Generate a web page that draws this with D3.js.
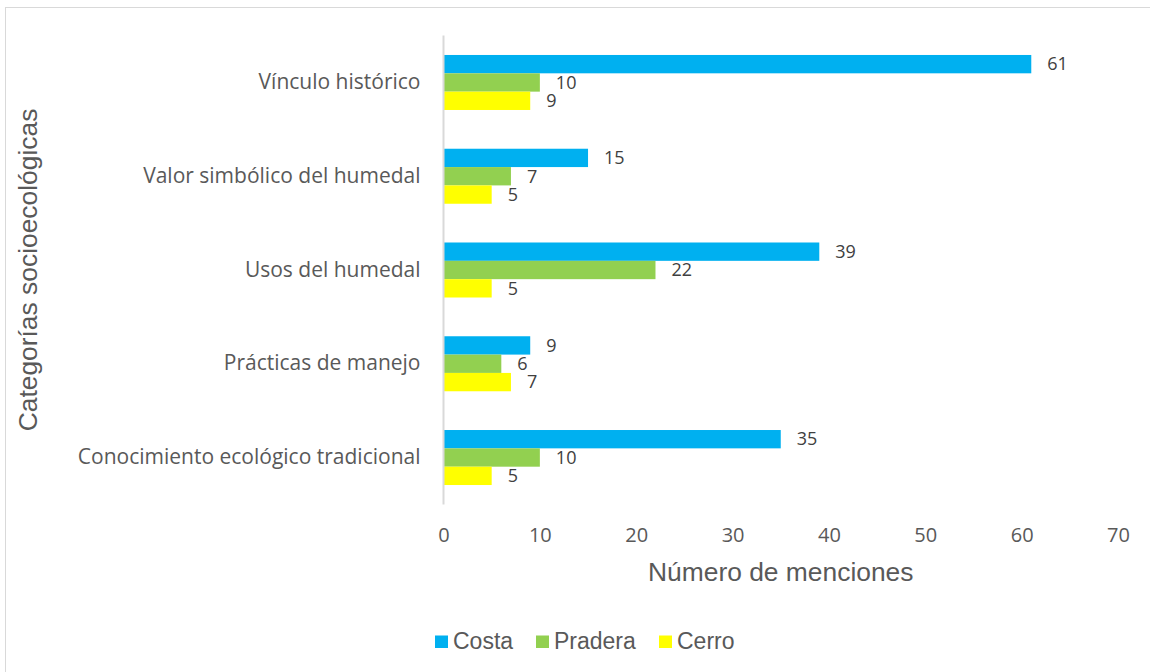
<!DOCTYPE html>
<html>
<head>
<meta charset="utf-8">
<script src="https://cdn.jsdelivr.net/npm/d3@7"></script>
<style>
  body { margin: 0; background: #fff; }
  svg { display: block; }
</style>
</head>
<body>
<div id="chart"></div>
<script>
// data, top category first
var categories = ['Vínculo histórico', 'Valor simbólico del humedal', 'Usos del humedal',
                  'Prácticas de manejo', 'Conocimiento ecológico tradicional'];
var seriesNames = ['Costa', 'Pradera', 'Cerro'];
var costa   = [61, 15, 39, 9, 35];
var pradera = [10, 7, 22, 6, 10];
var cerro   = [9, 5, 5, 7, 5];
var xTicks  = [0, 10, 20, 30, 40, 50, 60, 70];
var colors  = ['#00B0F0', '#92D050', '#FFFF00'];

var W = 1150, H = 672;
var plot = { left: 443.5, right: 1118, top: 35.6, bottom: 504.4 };

var svg = d3.select('#chart').append('svg')
  .attr('width', W)
  .attr('height', H);

// outer frame (cut off at right / bottom like the original)
svg.append('rect')
  .attr('x', 5.5).attr('y', 7.5)
  .attr('width', W + 10).attr('height', H + 10)
  .attr('fill', 'none')
  .attr('stroke', '#d9d9d9');

var rows = categories.map(function(c, i) {
  return { cat: c, values: [costa[i], pradera[i], cerro[i]] };
});

var x = d3.scaleLinear().domain([0, 70]).range([plot.left, plot.right]);

var y = d3.scaleBand()
  .domain(categories)
  .range([plot.top, plot.bottom])
  .paddingInner(0.4133)
  .paddingOuter(0.4133 / 2);

var ySub = d3.scaleBand()
  .domain(seriesNames)
  .range([0, y.bandwidth()]);

// bars
var groups = svg.selectAll('g.cat')
  .data(rows)
  .enter().append('g')
  .attr('class', 'cat')
  .attr('transform', function(d) { return 'translate(0,' + y(d.cat) + ')'; });

groups.selectAll('rect')
  .data(function(d) { return d.values.map(function(v, j) { return { s: seriesNames[j], v: v, j: j }; }); })
  .enter().append('rect')
  .attr('x', x(0))
  .attr('y', function(d) { return ySub(d.s); })
  .attr('width', function(d) { return x(d.v) - x(0); })
  .attr('height', ySub.bandwidth())
  .attr('fill', function(d) { return colors[d.j]; });

// value labels
groups.selectAll('text')
  .data(function(d) { return d.values.map(function(v, j) { return { s: seriesNames[j], v: v }; }); })
  .enter().append('text')
  .attr('x', function(d) { return x(d.v) + 16; })
  .attr('y', function(d) { return ySub(d.s) + ySub.bandwidth() / 2; })
  .attr('dy', '0.35em')
  .attr('font-family', 'Open Sans, sans-serif')
  .attr('font-size', '18px')
  .attr('fill', '#404040')
  .text(function(d) { return d.v; });

// y axis (line + category labels)
var yAxis = svg.append('g')
  .attr('transform', 'translate(' + plot.left + ',0)')
  .call(d3.axisLeft(y).tickSize(0).tickPadding(23));
yAxis.select('.domain').attr('stroke', '#d9d9d9').attr('stroke-width', 2)
  .attr('d', 'M0,' + plot.top + 'V' + plot.bottom);
yAxis.selectAll('text')
  .attr('font-family', 'Open Sans, sans-serif')
  .attr('font-size', '21px')
  .attr('fill', '#595959');

// x axis labels only
var xAxis = svg.append('g')
  .attr('transform', 'translate(0,' + plot.bottom + ')')
  .call(d3.axisBottom(x).tickValues(xTicks).tickSize(0).tickPadding(0));
xAxis.select('.domain').remove();
xAxis.selectAll('text')
  .attr('y', 38)
  .attr('dy', null)
  .attr('font-family', 'Open Sans, sans-serif')
  .attr('font-size', '20px')
  .attr('fill', '#595959');

// axis titles
svg.append('text')
  .attr('x', (plot.left + plot.right) / 2)
  .attr('y', 581)
  .attr('text-anchor', 'middle')
  .attr('font-family', 'Liberation Sans, Arial, sans-serif')
  .attr('font-size', '26.4px')
  .attr('fill', '#595959')
  .text('Número de menciones');

svg.append('text')
  .attr('transform', 'translate(37,' + ((plot.top + plot.bottom) / 2) + ') rotate(-90)')
  .attr('text-anchor', 'middle')
  .attr('font-family', 'Liberation Sans, Arial, sans-serif')
  .attr('font-size', '26.4px')
  .attr('fill', '#595959')
  .text('Categorías socioecológicas');

// legend
var legendX = [435, 536, 659];
var legend = svg.selectAll('g.legend')
  .data(seriesNames)
  .enter().append('g')
  .attr('class', 'legend')
  .attr('transform', function(d, i) { return 'translate(' + legendX[i] + ',635.5)'; });

legend.append('rect')
  .attr('width', 13).attr('height', 12.5)
  .attr('fill', function(d, i) { return colors[i]; });

legend.append('text')
  .attr('x', 18)
  .attr('y', 13.5)
  .attr('font-family', 'Liberation Sans, Arial, sans-serif')
  .attr('font-size', '23px')
  .attr('fill', '#595959')
  .text(function(d) { return d; });
</script>
</body>
</html>
